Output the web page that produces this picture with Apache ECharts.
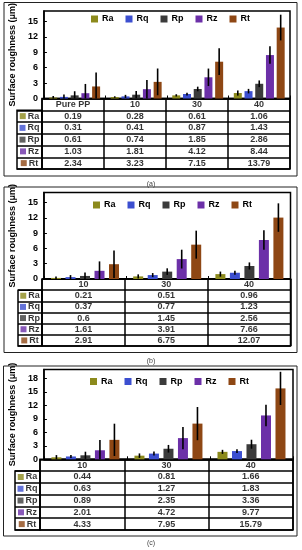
<!DOCTYPE html>
<html>
<head>
<meta charset="utf-8">
<script src="https://cdn.jsdelivr.net/npm/echarts@6/dist/echarts.min.js"></script>
<style>
html,body{margin:0;padding:0;background:#fff;}
#c{width:302px;height:550px;}
</style>
</head>
<body>
<div id="c"></div>
<script>
// ---------------- DATA ----------------
const metrics = ['Ra', 'Rq', 'Rp', 'Rz', 'Rt'];

// Panel (a)
const catsA = ['Pure PP', '10', '30', '40'];
const raA = [0.19, 0.28, 0.61, 1.06];
const rqA = [0.31, 0.41, 0.87, 1.43];
const rpA = [0.61, 0.74, 1.85, 2.86];
const rzA = [1.03, 1.81, 4.12, 8.44];
const rtA = [2.34, 3.23, 7.15, 13.79];
const errRaA = [0.3, 0.15, 0.22, 0.5];
const errRqA = [0.45, 0.3, 0.27, 0.44];
const errRpA = [0.8, 0.7, 0.45, 0.65];
const errRzA = [1.8, 1.8, 1.7, 1.7];
const errRtA = [2.7, 2.6, 2.6, 2.5];
const yTicksA = [0, 3, 6, 9, 12, 15];

// Panel (b)
const catsB = ['10', '30', '40'];
const raB = [0.21, 0.51, 0.96];
const rqB = [0.37, 0.77, 1.23];
const rpB = [0.6, 1.45, 2.56];
const rzB = [1.61, 3.91, 7.66];
const rtB = [2.91, 6.75, 12.07];
const errRaB = [0.3, 0.4, 0.5];
const errRqB = [0.4, 0.4, 0.4];
const errRpB = [0.7, 0.65, 0.7];
const errRzB = [1.85, 1.85, 1.9];
const errRtB = [2.7, 2.75, 2.8];
const yTicksB = [0, 3, 6, 9, 12, 15];

// Panel (c)
const catsC = ['10', '30', '40'];
const raC = [0.44, 0.81, 1.66];
const rqC = [0.63, 1.27, 1.83];
const rpC = [0.89, 2.35, 3.36];
const rzC = [2.01, 4.72, 9.77];
const rtC = [4.33, 7.95, 15.79];
const errRaC = [0.5, 0.5, 0.45];
const errRqC = [0.35, 0.45, 0.4];
const errRpC = [0.8, 0.85, 1.0];
const errRzC = [2.3, 2.5, 2.4];
const errRtC = [3.6, 3.7, 3.7];
const yTicksC = [0, 3, 6, 9, 12, 15, 18];

const yTitle = 'Surface roughness (\u03bcm)';
const captions = ['(a)', '(b)', '(c)'];

// ---------------- STYLE / LAYOUT ----------------
const colors = {Ra: '#8c8a1c', Rq: '#3c4fd0', Rp: '#3b3b3b', Rz: '#6c30a8', Rt: '#8e4714'};
const FONT = 'Liberation Sans, Arial, sans-serif';

const panels = [
  {cats: catsA, vals: [raA, rqA, rpA, rzA, rtA], errs: [errRaA, errRqA, errRpA, errRzA, errRtA], ticks: yTicksA, yMax: 17,
   outer: [4, 2.5, 293, 173.5], bar: {left: 42, top: 6, width: 248, height: 92.5},
   table: {left: 42, top: 98.5, width: 248, height: 70.5}, lab: {left: 17, width: 25},
   legendTop: 14.5, legendLeft: 91, capY: 184, bw: 8, gapRatio: 0.34},
  {cats: catsB, vals: [raB, rqB, rpB, rzB, rtB], errs: [errRaB, errRqB, errRpB, errRzB, errRtB], ticks: yTicksB, yMax: 17,
   outer: [4, 187, 293, 165.5], bar: {left: 42, top: 192.5, width: 248.5, height: 86.5},
   table: {left: 42, top: 279, width: 248.5, height: 67}, lab: {left: 18, width: 24},
   legendTop: 200.5, legendLeft: 93, capY: 361, bw: 10, gapRatio: 0.45},
  {cats: catsC, vals: [raC, rqC, rpC, rzC, rtC], errs: [errRaC, errRqC, errRpC, errRzC, errRtC], ticks: yTicksC, yMax: 20,
   outer: [3.5, 366, 293.5, 170], bar: {left: 40, top: 369.5, width: 253, height: 89.8},
   table: {left: 40, top: 459.3, width: 253, height: 70.7}, lab: {left: 15, width: 25},
   legendTop: 377, legendLeft: 90, capY: 543, bw: 10, gapRatio: 0.45}
];

const grid = [], xAxis = [], yAxis = [], series = [], legend = [], graphic = [];
const lineBlack = {color: '#000', width: 1.5};

panels.forEach((p, pi) => {
  const gBar = pi * 3, gTab = pi * 3 + 1, gLab = pi * 3 + 2;
  const rowH = p.table.height / 6;
  grid.push({left: p.bar.left, top: p.bar.top, width: p.bar.width, height: p.bar.height,
             show: true, borderColor: '#000', borderWidth: 1.5, containLabel: false});
  grid.push({left: p.table.left, top: p.table.top, width: p.table.width, height: p.table.height,
             show: true, borderColor: '#000', borderWidth: 1.5});
  grid.push({left: p.lab.left, top: p.table.top + rowH, width: p.lab.width, height: p.table.height - rowH,
             show: true, borderColor: '#000', borderWidth: 1.5});

  // bar chart axes
  xAxis.push({type: 'category', gridIndex: gBar, data: p.cats, boundaryGap: true,
    axisLine: {show: true, lineStyle: lineBlack},
    axisTick: {show: true, inside: true, length: 3, interval: 0, lineStyle: {color: '#000', width: 1}},
    axisLabel: {show: false}, splitLine: {show: false}});
  yAxis.push({type: 'value', gridIndex: gBar, min: 0, max: p.yMax,
    axisLine: {show: true, lineStyle: lineBlack},
    axisTick: {show: true, inside: true, length: 3, customValues: p.ticks, lineStyle: {color: '#000', width: 1}},
    axisLabel: {show: true, customValues: p.ticks, fontFamily: FONT, fontWeight: 'bold', fontSize: 9, color: '#000', margin: 6},
    splitLine: {show: false},
    name: yTitle, nameLocation: 'middle', nameGap: 26, nameRotate: 90,
    nameTextStyle: {fontFamily: FONT, fontWeight: 'bold', fontSize: 9, color: '#000'}});

  // table axes
  xAxis.push({type: 'category', gridIndex: gTab, data: p.cats, boundaryGap: true,
    axisLine: {show: false}, axisTick: {show: false}, axisLabel: {show: false},
    splitLine: {show: true, interval: 0, lineStyle: lineBlack}});
  yAxis.push({type: 'category', gridIndex: gTab, data: ['hdr'].concat(metrics), inverse: true, boundaryGap: true,
    axisLine: {show: false}, axisTick: {show: false}, axisLabel: {show: false},
    splitLine: {show: true, interval: 0, lineStyle: lineBlack}});

  // row label column axes
  xAxis.push({type: 'category', gridIndex: gLab, data: ['L'], boundaryGap: true,
    axisLine: {show: false}, axisTick: {show: false}, axisLabel: {show: false}, splitLine: {show: false}});
  yAxis.push({type: 'category', gridIndex: gLab, data: metrics, inverse: true, boundaryGap: true,
    axisLine: {show: false}, axisTick: {show: false}, axisLabel: {show: false},
    splitLine: {show: true, interval: 0, lineStyle: lineBlack}});

  // bars
  metrics.forEach((m, mi) => {
    series.push({type: 'bar', name: m, xAxisIndex: gBar, yAxisIndex: gBar, data: p.vals[mi],
      barWidth: p.bw, barGap: (p.gapRatio * 100) + '%', itemStyle: {color: colors[m]}, z: 2});
  });
  // error bars
  metrics.forEach((m, mi) => {
    const step = p.bw * (1 + p.gapRatio);
    series.push({type: 'custom', name: 'err' + m + pi, xAxisIndex: gBar, yAxisIndex: gBar, z: 4,
      data: p.cats.map((c, j) => [j, p.vals[mi][j], p.errs[mi][j]]),
      renderItem: function (params, api) {
        const x = api.value(0), v = api.value(1), e = api.value(2);
        const top = api.coord([x, v + e]);
        const bot = api.coord([x, Math.max(0, v - e)]);
        const off = (mi - 2) * step;
        return {type: 'line', shape: {x1: top[0] + off, y1: top[1], x2: top[0] + off, y2: bot[1]},
                style: {stroke: '#000', lineWidth: 1.6}};
      }});
  });
  // table header
  series.push({type: 'scatter', name: 'hdr' + pi, xAxisIndex: gTab, yAxisIndex: gTab, symbolSize: 1,
    itemStyle: {color: 'rgba(0,0,0,0)'}, silent: true,
    data: p.cats.map(c => [c, 'hdr']),
    label: {show: true, position: 'inside', formatter: q => p.cats[q.dataIndex],
      fontFamily: FONT, fontWeight: 'bold', fontSize: 9, color: '#000'}});
  // table values
  metrics.forEach((m, mi) => {
    series.push({type: 'scatter', name: 'tab' + m + pi, xAxisIndex: gTab, yAxisIndex: gTab, symbolSize: 1,
      itemStyle: {color: 'rgba(0,0,0,0)'}, silent: true,
      data: p.cats.map((c, j) => [c, m, p.vals[mi][j]]),
      label: {show: true, position: 'inside', formatter: q => String(q.value[2]),
        fontFamily: FONT, fontWeight: 'bold', fontSize: 9, color: '#000'}});
  });
  // row labels
  series.push({type: 'scatter', name: 'lab' + pi, xAxisIndex: gLab, yAxisIndex: gLab, symbolSize: 1,
    itemStyle: {color: 'rgba(0,0,0,0)'}, silent: true,
    data: metrics.map(m => ['L', m]),
    label: {show: true, position: 'inside', formatter: q => '{mk' + q.dataIndex + '|}{t|' + q.value[1] + '}',
      rich: Object.assign({t: {fontFamily: FONT, fontWeight: 'bold', fontSize: 9, color: '#000', padding: [0, 0, 0, 2]}},
        ...metrics.map((m, k) => ({['mk' + k]: {width: 6, height: 6, backgroundColor: colors[m]}})))}});

  legend.push({data: metrics, top: p.legendTop, left: p.legendLeft, icon: 'rect', itemWidth: 7, itemHeight: 7,
    itemGap: 12, padding: 0, selectedMode: false,
    textStyle: {fontFamily: FONT, fontWeight: 'bold', fontSize: 9, color: '#000', padding: [0, 0, 0, -1]}});

  graphic.push({type: 'rect', shape: {x: p.outer[0], y: p.outer[1], width: p.outer[2], height: p.outer[3]},
    style: {fill: 'none', stroke: '#222', lineWidth: 1}, silent: true, z: -1});
  graphic.push({type: 'text', x: 151, y: p.capY, style: {text: captions[pi], fill: '#444', font: '7px ' + FONT,
    textAlign: 'center', textVerticalAlign: 'middle'}, silent: true});
});

const chart = echarts.init(document.getElementById('c'), null, {renderer: 'canvas'});
chart.setOption({
  animation: false,
  backgroundColor: '#fff',
  grid, xAxis, yAxis, series, legend, graphic
});
</script>
</body>
</html>
